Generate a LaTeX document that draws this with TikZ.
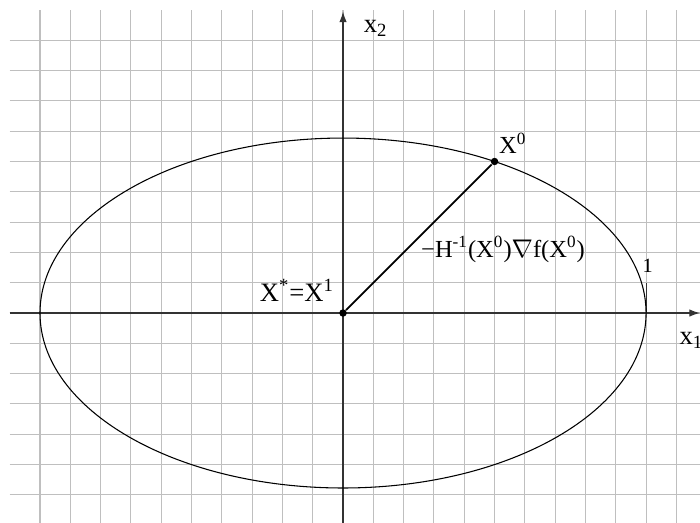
\documentclass[tikz,border=0pt]{standalone}
\usepackage{fontspec}
\setmainfont{Liberation Serif}
\usetikzlibrary{arrows.meta}

\begin{document}
\begin{tikzpicture}[x=0.5cm, y=0.5cm,
  gridline/.style={gray!50, line width=0.5pt},
  axis/.style={black!80, line width=0.6pt, -{Latex[length=5pt,width=3.5pt]}},
  lbl/.style={font=\fontsize{11.5}{13}\selectfont, inner sep=1pt},
  pt/.style={circle, fill, inner sep=0pt, minimum size=3.5pt}]
\clip (-11.32,-6.9) rectangle (11.78,10.33);
\foreach \k in {-10,...,11} \draw[gridline] (\k,-7) -- (\k,10);
\foreach \k in {-6,...,9} \draw[gridline] (-11,\k) -- (12,\k);
% axes
\draw[axis] (-11,0) -- (11.78,0);
\draw[axis] (0,-7) -- (0,9.95);
\node[lbl, font=\fontsize{12.5}{14}\selectfont, anchor=west] (xtwo) at (0.6,9.4) {x\textsubscript{2}};
\node[lbl, font=\fontsize{12.5}{14}\selectfont] (xone) at (11.5,-0.9) {x\textsubscript{1}};
\draw[black!80, line width=0.5pt] (10,0) -- (10,1);
\node[lbl, font=\fontsize{9.5}{11}\selectfont] (one) at (10.05,1.55) {1};
% level set x^2+3y^2=1
\draw[line width=0.5pt] (0,0) ellipse [x radius=10, y radius=5.774];
\node[pt] (xstar) at (0,0) {};
\node[pt] (xzero) at (5,5) {};
\draw[line width=0.8pt] (xstar) -- (xzero);
\node[lbl] (lzero) at (5.6,5.6) {X\textsuperscript{0}};
\node[lbl, font=\fontsize{12.5}{14}\selectfont] (lstar) at (-1.52,0.75) {X\textsuperscript{*}=X\textsuperscript{1}};
\node[lbl] (lstep) at (5.28,2.1) {−H\textsuperscript{-1}(X\textsuperscript{0})$\nabla$f(X\textsuperscript{0})};
\end{tikzpicture}
\end{document}
